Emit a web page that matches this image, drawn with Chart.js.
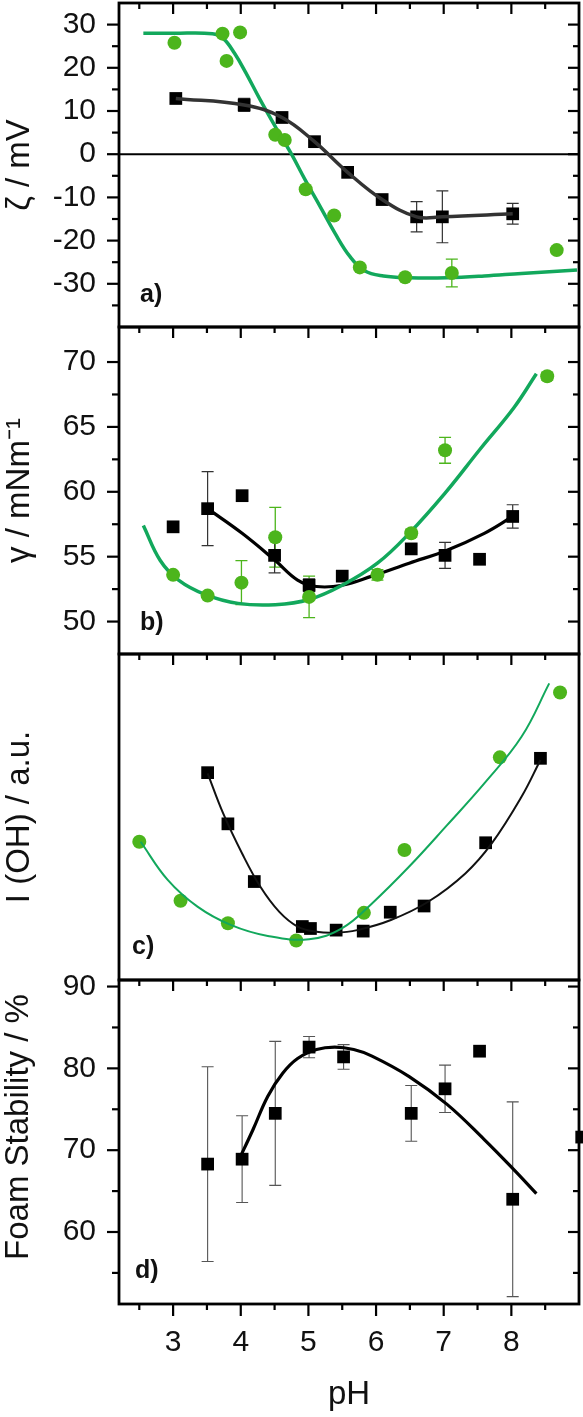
<!DOCTYPE html>
<html><head><meta charset="utf-8">
<script src="https://cdn.jsdelivr.net/npm/chart.js@4/dist/chart.umd.min.js"></script>
<style>
html,body{margin:0;padding:0;background:#fff;}
body{width:583px;height:1417px;position:relative;overflow:hidden;}
.p{position:absolute;left:0;width:583px;}
</style></head>
<body>
<div class="p" style="top:0px;height:330px"><canvas id="ca"></canvas></div>
<div class="p" style="top:324px;height:333px"><canvas id="cb"></canvas></div>
<div class="p" style="top:651px;height:332px"><canvas id="cc"></canvas></div>
<div class="p" style="top:957px;height:460px"><canvas id="cd"></canvas></div>
<script>
// ---------- tick labels ----------
const xMajorTicks = [3, 4, 5, 6, 7, 8];
const xMinorTicks = [2.5, 3.5, 4.5, 5.5, 6.5, 7.5, 8.5];
const zetaMajorTicks = [-30, -20, -10, 0, 10, 20, 30];
const zetaMinorTicks = [-35, -25, -15, -5, 5, 15, 25];
const gammaMajorTicks = [50, 55, 60, 65, 70];
const gammaMinorTicks = [52.5, 57.5, 62.5, 67.5];
const foamMajorTicks = [60, 70, 80, 90];
const foamMinorTicks = [55, 65, 75, 85];

// ---------- a) zeta potential ----------
const phZetaBlack = [3.04, 4.05, 4.61, 5.09, 5.58, 6.09, 6.60, 6.98, 8.02];
const zetaBlack = [12.9, 11.4, 8.5, 2.9, -4.2, -10.5, -14.5, -14.5, -13.8];
const zetaBlackErr = [0, 1.5, 0, 0, 0, 0, 3.5, 6.0, 2.4];
const phZetaGreen = [3.02, 3.73, 3.79, 3.99, 4.51, 4.65, 4.96, 5.38, 5.76, 6.43, 7.12, 8.67];
const zetaGreen = [25.8, 27.9, 21.6, 28.2, 4.5, 3.3, -8.1, -14.2, -26.2, -28.5, -27.5, -22.2];
const zetaGreenErr = [0, 0, 0, 0, 0, 0, 0, 0, 0, 0, 3.2, 0];
const phZetaGreenFit = [2.56, 3.0, 3.58, 3.74, 3.91, 4.07, 4.29, 4.51, 4.75, 4.95, 5.17, 5.39, 5.61, 5.83, 6.11, 6.49, 7.05, 7.6, 8.15, 8.97];
const zetaGreenFit = [28, 28, 27.9, 26.8, 23.3, 19, 12.5, 6.4, 0, -5.9, -12, -18.2, -23.6, -27, -28.2, -28.6, -28.6, -28.2, -27.6, -26.8];

// ---------- b) surface tension ----------
const phGammaBlack = [3.0, 3.51, 4.02, 4.5, 5.01, 5.5, 6.52, 7.02, 7.53, 8.02];
const gammaBlack = [57.3, 58.7, 59.7, 55.1, 52.8, 53.5, 55.6, 55.1, 54.8, 58.1];
const gammaBlackErr = [0, 2.85, 0, 1.35, 0.5, 0, 0, 1.0, 0, 0.9];
const phGammaGreen = [3.0, 3.51, 4.01, 4.51, 5.01, 6.02, 6.52, 7.02, 8.53];
const gammaGreen = [53.6, 52.0, 53.0, 56.5, 51.9, 53.6, 56.8, 63.2, 68.9];
const gammaGreenErr = [0, 0, 1.7, 2.3, 1.6, 0.4, 0.3, 1.0, 0.3];
const phGammaBlackFit = [3.51, 4.02, 4.51, 4.84, 5.12, 5.5, 5.94, 6.49, 7.05, 7.6, 8.02];
const gammaBlackFit = [58.7, 56.8, 54.7, 53.2, 52.7, 52.8, 53.5, 54.5, 55.5, 56.8, 58.1];
const phGammaGreenFit = [2.56, 2.81, 3.08, 3.47, 3.96, 4.51, 5.01, 5.5, 6.02, 6.49, 7.02, 7.54, 8.04, 8.37];
const gammaGreenFit = [57.4, 54.7, 53.2, 52.1, 51.4, 51.3, 51.7, 52.8, 54.5, 56.8, 59.9, 63.3, 66.5, 69.1];

// ---------- c) I(OH), arbitrary units ----------
const phOHBlack = [3.51, 3.81, 4.2, 4.91, 5.03, 5.41, 5.81, 6.21, 6.71, 7.62, 8.43];
const ohBlack = [63.6, 47.9, 30.2, 16.4, 15.8, 15.3, 15.0, 20.8, 22.7, 42.1, 68.0];
const phOHGreen = [2.5, 3.11, 3.81, 4.82, 5.82, 6.42, 7.83, 8.72];
const ohGreen = [42.4, 24.3, 17.4, 12.1, 20.6, 39.9, 68.3, 88.2];
const phOHBlackFit = [3.51, 3.74, 4.02, 4.29, 4.57, 4.84, 5.12, 5.39, 5.72, 6.22, 6.77, 7.32, 7.71, 8.15, 8.43];
const ohBlackFit = [63.4, 51.1, 38.8, 28.6, 20.9, 16.4, 14.8, 14.5, 15.3, 18.4, 24.0, 32.7, 41.9, 56.2, 67.5];
const phOHGreenFit = [2.52, 2.92, 3.36, 3.85, 4.4, 5.01, 5.5, 5.94, 6.49, 7.05, 7.6, 8.15, 8.56];
const ohGreenFit = [42.4, 30.7, 22.5, 16.9, 13.5, 12.5, 15.9, 23.5, 34.8, 47.5, 60.3, 74.6, 91.0];

// ---------- d) foam stability ----------
const phFoam = [3.51, 4.02, 4.51, 5.01, 5.52, 6.52, 7.02, 7.53, 8.02, 9.04];
const foam = [68.3, 68.9, 74.5, 82.6, 81.4, 74.5, 77.5, 82.1, 64.0, 71.6];
const foamErr = [11.9, 5.3, 8.8, 1.3, 1.5, 3.4, 2.9, 0, 11.9, 0];
const phFoamFit = [3.96, 4.18, 4.4, 4.62, 4.84, 5.12, 5.39, 5.67, 5.94, 6.49, 7.05, 7.6, 8.04, 8.37];
const foamFit = [68.6, 72.5, 76.6, 79.4, 81.2, 82.3, 82.6, 82.3, 81.5, 79.0, 75.6, 71.3, 67.6, 64.7];

// ---------- styling ----------
const FONT = "'Liberation Sans', Arial, Helvetica, sans-serif";
const GREEN_PT = '#4cb51c';
const GREEN_LN = '#12a85c';
const toXY = (xs, ys) => xs.map((x, i) => ({x: x, y: ys[i]}));

const decor = {
  id: 'decor',
  beforeDatasetsDraw(chart) {
    const o = chart.options.plugins.decor || {};
    const ctx = chart.ctx, xs = chart.scales.x, ys = chart.scales.y, ca = chart.chartArea;
    ctx.save();
    if (o.zeroLine) {
      const y0 = ys.getPixelForValue(0);
      ctx.strokeStyle = '#000'; ctx.lineWidth = 2;
      ctx.beginPath(); ctx.moveTo(ca.left, y0); ctx.lineTo(ca.right, y0); ctx.stroke();
    }
    chart.data.datasets.forEach(ds => {
      if (!ds.errors) return;
      ctx.strokeStyle = ds.errorColor; ctx.lineWidth = ds.errorWidth || 1.2;
      ds.data.forEach((p, j) => {
        const e = ds.errors[j]; if (!e) return;
        const px = xs.getPixelForValue(p.x);
        const y1 = ys.getPixelForValue(p.y + e), y2 = ys.getPixelForValue(p.y - e);
        ctx.beginPath();
        ctx.moveTo(px, y1); ctx.lineTo(px, y2);
        ctx.moveTo(px - 6, y1); ctx.lineTo(px + 6, y1);
        ctx.moveTo(px - 6, y2); ctx.lineTo(px + 6, y2);
        ctx.stroke();
      });
    });
    ctx.restore();
  },
  afterDraw(chart) {
    const o = chart.options.plugins.decor || {};
    const ctx = chart.ctx, xs = chart.scales.x, ys = chart.scales.y, ca = chart.chartArea;
    ctx.save();
    ctx.strokeStyle = '#000'; ctx.lineCap = 'butt';
    ctx.lineWidth = 2.2;
    const seg = (x1, y1, x2, y2) => { ctx.beginPath(); ctx.moveTo(x1, y1); ctx.lineTo(x2, y2); ctx.stroke(); };
    xMajorTicks.forEach(v => { const p = xs.getPixelForValue(v); seg(p, ca.top, p, ca.top + 11); });
    xMinorTicks.forEach(v => { const p = xs.getPixelForValue(v); seg(p, ca.top, p, ca.top + 6); });
    if (o.bottomTicks) {
      xMajorTicks.forEach(v => { const p = xs.getPixelForValue(v); seg(p, ca.bottom, p, ca.bottom + 12); });
      xMinorTicks.forEach(v => { const p = xs.getPixelForValue(v); seg(p, ca.bottom, p, ca.bottom + 6); });
    }
    (o.yMajor || []).forEach(v => {
      const p = ys.getPixelForValue(v);
      seg(ca.left - 12, p, ca.left, p);
      seg(ca.right - 11, p, ca.right, p);
    });
    (o.yMinor || []).forEach(v => {
      const p = ys.getPixelForValue(v);
      seg(ca.left - 7, p, ca.left, p);
      seg(ca.right - 6, p, ca.right, p);
    });
    ctx.lineWidth = 2.8;
    ctx.strokeRect(ca.left, ca.top, ca.right - ca.left, ca.bottom - ca.top);
    ctx.fillStyle = '#111';
    if (o.label) {
      ctx.font = 'bold 25px ' + FONT;
      ctx.textBaseline = 'alphabetic';
      ctx.fillText(o.label, ca.left + o.labelDx, ca.bottom - o.labelDy);
    }
    if (o.yTitle) {
      ctx.save();
      ctx.translate(19, (ca.top + ca.bottom) / 2 + o.yTitleDy);
      ctx.rotate(-Math.PI / 2);
      ctx.font = '33px ' + FONT;
      ctx.textAlign = 'center'; ctx.textBaseline = 'middle';
      ctx.fillText(o.yTitle, 0, 0);
      ctx.restore();
    }
    ctx.restore();
  }
};

function yAxis(min, max, major, title, showLabels) {
  return {
    type: 'linear', position: 'left', min: min, max: max,
    afterBuildTicks: s => { s.ticks = major.map(v => ({value: v})); },
    afterFit: s => { s.width = 119; s.paddingTop = 0; s.paddingBottom = 0; },
    grid: {drawOnChartArea: false, color: 'rgba(0,0,0,0)', tickLength: 12},
    border: {display: false},
    ticks: {display: showLabels, autoSkip: false, color: '#111', padding: 11, font: {family: FONT, size: 30}},
    title: {display: !!title, text: title, color: '#111', padding: {top: 0, bottom: 0}, font: {family: FONT, size: 33}}
  };
}
function xAxis(show) {
  return {
    type: 'linear', position: 'bottom', min: 2.2, max: 9.0, display: show,
    afterBuildTicks: s => { s.ticks = xMajorTicks.map(v => ({value: v})); },
    afterFit: s => { s.paddingLeft = 0; s.paddingRight = 0; if (show) { s.height = 113; } else { s.height = 0; } },
    grid: {drawOnChartArea: false, color: 'rgba(0,0,0,0)', tickLength: 12},
    border: {display: false},
    ticks: {autoSkip: false, color: '#111', padding: 9, maxRotation: 0, font: {family: FONT, size: 30}},
    title: {display: true, text: 'pH', color: '#111', padding: {top: 0, bottom: 2}, font: {family: FONT, size: 33}}
  };
}
function pts(data, style, color, r, errs, errColor, errW) {
  return {type: 'line', data: data, showLine: false, pointStyle: style, pointRadius: r, pointHoverRadius: r,
    pointBackgroundColor: color, pointBorderColor: color, pointBorderWidth: 0, clip: false,
    errors: errs, errorColor: errColor, errorWidth: errW};
}
function fit(data, color, w) {
  return {type: 'line', data: data, borderColor: color, borderWidth: w, pointRadius: 0, tension: 0.4, fill: false};
}
function make(id, datasets, yCfg, showX, decorOpts, pad) {
  return new Chart(document.getElementById(id), {
    data: {datasets: datasets},
    options: {
      responsive: true, maintainAspectRatio: false, animation: false, devicePixelRatio: 1,
      layout: {padding: pad, autoPadding: false},
      plugins: {legend: {display: false}, tooltip: {enabled: false}, decor: decorOpts},
      scales: {x: xAxis(showX), y: yCfg}
    },
    plugins: [decor]
  });
}

make('ca', [
  pts(toXY(phZetaGreen, zetaGreen), 'circle', GREEN_PT, 7, zetaGreenErr, GREEN_PT, 1.3),
  fit(toXY(phZetaBlack, zetaBlack), '#333', 3.5),
  pts(toXY(phZetaBlack, zetaBlack), 'rect', '#000', 9, zetaBlackErr, '#333', 1.2),
  fit(toXY(phZetaGreenFit, zetaGreenFit), GREEN_LN, 3.5)
], yAxis(-40, 35, zetaMajorTicks, 'ζ / mV', true), false,
  {zeroLine: true, yMajor: zetaMajorTicks, yMinor: zetaMinorTicks, label: 'a)', labelDx: 21, labelDy: 25},
  {left: 0, right: 4, top: 3, bottom: 3});

make('cb', [
  pts(toXY(phGammaGreen, gammaGreen), 'circle', GREEN_PT, 7, gammaGreenErr, GREEN_PT, 1.3),
  fit(toXY(phGammaGreenFit, gammaGreenFit), GREEN_LN, 3.5),
  pts(toXY(phGammaBlack, gammaBlack), 'rect', '#000', 9, gammaBlackErr, '#333', 1.2),
  fit(toXY(phGammaBlackFit, gammaBlackFit), '#000', 3.2)
], yAxis(47.5, 72.7, gammaMajorTicks, 'γ / mNm⁻¹', true), false,
  {yMajor: gammaMajorTicks, yMinor: gammaMinorTicks, label: 'b)', labelDx: 21, labelDy: 24},
  {left: 0, right: 4, top: 3, bottom: 3});

make('cc', [
  fit(toXY(phOHGreenFit, ohGreenFit), GREEN_LN, 2),
  pts(toXY(phOHGreen, ohGreen), 'circle', GREEN_PT, 7),
  fit(toXY(phOHBlackFit, ohBlackFit), '#111', 2),
  pts(toXY(phOHBlack, ohBlack), 'rect', '#000', 9)
], yAxis(0, 100, [], 'I (OH) / a.u.', false), false,
  {yMajor: [], yMinor: [], label: 'c)', labelDx: 13, labelDy: 26},
  {left: 0, right: 4, top: 3, bottom: 3});

make('cd', [
  pts(toXY(phFoam, foam), 'rect', '#000', 9, foamErr, '#555', 1.1),
  fit(toXY(phFoamFit, foamFit), '#000', 3.2)
], yAxis(51.2, 90.8, foamMajorTicks, '', true), true,
  {bottomTicks: true, yMajor: foamMajorTicks, yMinor: foamMinorTicks, label: 'd)', labelDx: 16, labelDy: 26,
   yTitle: 'Foam Stability / %', yTitleDy: -15},
  {left: 0, right: 4, top: 23, bottom: 0});
</script>
</body></html>
